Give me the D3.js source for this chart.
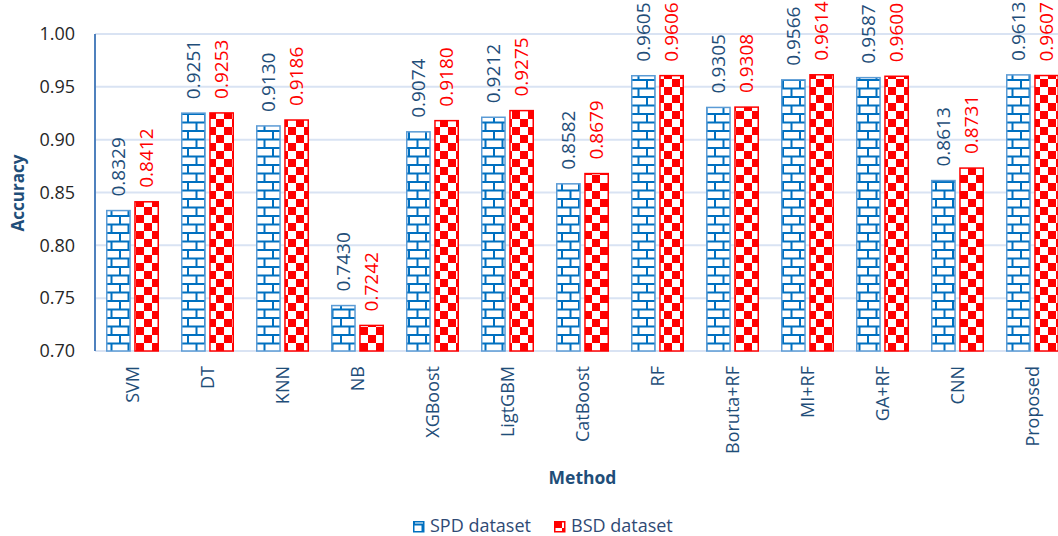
<!DOCTYPE html>
<html>
<head>
<meta charset="utf-8">
<script src="https://cdn.jsdelivr.net/npm/d3@7"></script>
<style>
  html, body { margin: 0; padding: 0; background: #fff; }
  svg { display: block; font-family: "Open Sans", "Noto Sans", sans-serif; }
</style>
</head>
<body>
<svg id="chart" width="1058" height="536"></svg>
<script>
// Accuracy of each method on the two datasets
const methods = ["SVM", "DT", "KNN", "NB", "XGBoost", "LigtGBM", "CatBoost", "RF",
                 "Boruta+RF", "MI+RF", "GA+RF", "CNN", "Proposed"];
const seriesNames = ["SPD dataset", "BSD dataset"];
const spdAccuracy = [0.8329, 0.9251, 0.9130, 0.7430, 0.9074, 0.9212, 0.8582, 0.9605,
                     0.9305, 0.9566, 0.9587, 0.8613, 0.9613];
const bsdAccuracy = [0.8412, 0.9253, 0.9186, 0.7242, 0.9180, 0.9275, 0.8679, 0.9606,
                     0.9308, 0.9614, 0.9600, 0.8731, 0.9607];
const yTicks = [0.70, 0.75, 0.80, 0.85, 0.90, 0.95, 1.00];

const svg = d3.select("#chart");
const plot = { left: 95, right: 1070, top: 34, bottom: 351 };

const x = d3.scaleBand().domain(methods).range([plot.left, plot.right]);
const xSeries = d3.scaleBand().domain(seriesNames).range([11.75, 63.25]).paddingInner(0.175);
const y = d3.scaleLinear().domain([0.70, 1.00]).range([plot.bottom, plot.top]);

// Fill patterns: blue brick and red checkerboard
const defs = svg.append("defs");
const brick = defs.append("pattern")
  .attr("id", "brick").attr("patternUnits", "userSpaceOnUse")
  .attr("width", 17).attr("height", 17).attr("y", plot.bottom);
brick.append("rect").attr("width", 17).attr("height", 17).attr("fill", "#fff");
brick.append("path")
  .attr("d", "M0,1 H17 M0,9.5 H17 M1,0 V9.5 M9.5,9.5 V17")
  .attr("stroke", "#0070C0").attr("stroke-width", 2).attr("fill", "none");

const checker = defs.append("pattern")
  .attr("id", "checker").attr("patternUnits", "userSpaceOnUse")
  .attr("width", 16).attr("height", 16).attr("y", plot.bottom);
checker.append("rect").attr("width", 16).attr("height", 16).attr("fill", "#fff");
checker.append("rect").attr("width", 8).attr("height", 8).attr("fill", "#FF0000");
checker.append("rect").attr("x", 8).attr("y", 8).attr("width", 8).attr("height", 8).attr("fill", "#FF0000");

const styles = {
  "SPD dataset": { fill: "url(#brick)", stroke: "#5B9BD5", label: "#1F4E79" },
  "BSD dataset": { fill: "url(#checker)", stroke: "#FF0000", label: "#FF0000" }
};

// Gridlines
svg.append("g")
  .selectAll("line").data(yTicks).join("line")
  .attr("x1", plot.left).attr("x2", plot.right)
  .attr("y1", d => y(d)).attr("y2", d => y(d))
  .attr("stroke", "#D9E3F3").attr("stroke-width", 2);

// Y tick labels
svg.append("g")
  .selectAll("text").data(yTicks).join("text")
  .attr("x", 75).attr("y", d => y(d)).attr("dy", "0.35em")
  .attr("text-anchor", "end").attr("font-size", 18).attr("fill", "#262626")
  .text(d => d.toFixed(2));

// Bars
const rows = [];
methods.forEach((m, i) => {
  rows.push({ method: m, series: seriesNames[0], value: spdAccuracy[i] });
  rows.push({ method: m, series: seriesNames[1], value: bsdAccuracy[i] });
});

const bars = svg.append("g");
bars.selectAll("rect").data(rows).join("rect")
  .attr("x", d => x(d.method) + xSeries(d.series))
  .attr("y", d => y(d.value))
  .attr("width", xSeries.bandwidth())
  .attr("height", d => y(0.70) - y(d.value))
  .attr("fill", d => styles[d.series].fill)
  .attr("stroke", d => styles[d.series].stroke)
  .attr("stroke-width", 1.5);

// Value labels, rotated above each bar
bars.selectAll("text").data(rows).join("text")
  .attr("transform", d => {
    const cx = x(d.method) + xSeries(d.series) + xSeries.bandwidth() / 2;
    return `translate(${cx},${y(d.value) - 14}) rotate(-90)`;
  })
  .attr("dy", "0.36em")
  .attr("font-size", 19)
  .attr("fill", d => styles[d.series].label)
  .text(d => d.value.toFixed(4));

// Y axis line
svg.append("line")
  .attr("x1", plot.left).attr("x2", plot.left)
  .attr("y1", plot.top).attr("y2", plot.bottom)
  .attr("stroke", "#4F81BD").attr("stroke-width", 2);

// Category labels
svg.append("g")
  .selectAll("text").data(methods).join("text")
  .attr("transform", d => `translate(${x(d) + x.bandwidth() / 2},366) rotate(-90)`)
  .attr("text-anchor", "end").attr("dy", "0.36em")
  .attr("font-size", 18).attr("fill", "#1F4E79")
  .text(d => d);

// Axis titles
svg.append("text")
  .attr("transform", `translate(18,193) rotate(-90)`)
  .attr("text-anchor", "middle").attr("dy", "0.36em")
  .attr("font-size", 17).attr("font-weight", "bold").attr("fill", "#1F4E79")
  .text("Accuracy");

svg.append("text")
  .attr("x", (plot.left + plot.right) / 2).attr("y", 484)
  .attr("text-anchor", "middle")
  .attr("font-size", 17.5).attr("font-weight", "bold").attr("fill", "#1F4E79")
  .text("Method");

// Legend
const legendX = [413, 554];
const legend = svg.append("g").selectAll("g").data(seriesNames).join("g")
  .attr("transform", (d, i) => `translate(${legendX[i]},521)`);
legend.append("rect")
  .attr("x", 0.75).attr("y", 0.75).attr("width", 10).attr("height", 10)
  .attr("fill", d => styles[d].fill)
  .attr("stroke", d => d === seriesNames[0] ? "#0070C0" : "#FF0000")
  .attr("stroke-width", 1.5);
legend.append("text")
  .attr("x", 17).attr("y", 11)
  .attr("font-size", 18).attr("fill", "#2F4A75")
  .text(d => d);
</script>
</body>
</html>
